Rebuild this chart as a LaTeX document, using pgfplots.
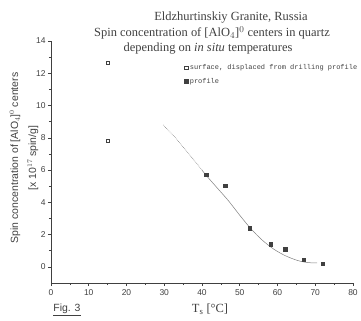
\documentclass[border=0pt]{standalone}
\usepackage{fontspec}
\setmainfont{Liberation Serif}
\setsansfont{Liberation Sans}
\newfontfamily\monofont{Liberation Mono}
\usepackage{pgfplots}
\pgfplotsset{compat=1.18}
\definecolor{ink}{gray}{0.25}
\begin{document}
\begin{tikzpicture}[x=1bp,y=1bp]
\path[use as bounding box] (-51,-38) rectangle (310,283);
\begin{axis}[at={(0,0)}, anchor=south west, scale only axis, width=302bp, height=242bp,
  xmin=0, xmax=80, ymin=-1, ymax=14,
  axis x line=bottom, axis y line=left,
  axis line style={-, ink, line width=0.6pt},
  xtick={0,10,...,80}, ytick={0,2,...,14},
  minor x tick num=1, minor y tick num=1,
  tick align=outside, major tick length=3bp, minor tick length=2bp,
  every tick/.style={ink, line width=0.5pt},
  ticklabel style={font=\sffamily\fontsize{8.5}{9}\selectfont, text=ink},
  yticklabel style={xshift=1bp},
  /pgf/number format/assume math mode=true,
  legend style={at={(axis cs:34.5,12.8)}, anchor=north west, draw=none, fill=none,
    font=\monofont\fontsize{7}{8}\selectfont, text=ink, row sep=3bp},
  legend cell align=left,
  clip=false]
\addplot[only marks, mark=square, mark size=1.7bp, ink, mark options={line width=0.5pt}]
  coordinates {(15,12.65) (15,7.8)};
\addlegendentry{surface, displaced from drilling profile}
\addplot[only marks, mark=square*, mark size=1.7bp, ink]
  coordinates {(41.1,5.71) (46.1,5.03) (52.7,2.40) (58.2,1.41) (62.0,1.10) (67.0,0.43) (71.9,0.2)};
\addlegendentry{profile}
\addplot[forget plot, gray, densely dotted, line width=0.6pt]
  coordinates {(29.7,8.8) (33,8.0) (36,7.15) (39,6.3) (40,6.0)};
\addplot[forget plot, gray, line width=0.5pt, smooth]
  coordinates {(40,6.0) (41,5.7) (44,4.9) (47,4.1) (50,3.2) (53,2.35) (56,1.65) (59,1.1) (62,0.7) (65,0.42) (67,0.3) (69,0.25) (70.5,0.25)};
\end{axis}
\node[text=ink, font=\fontsize{12.5}{14}\selectfont] at (180,265) {Eldzhurtinskiy Granite, Russia};
\node[text=ink, font=\fontsize{12.5}{14}\selectfont] at (161,250) {Spin concentration of [AlO$_4$]$^0$ centers in quartz};
\node[text=ink, font=\fontsize{12.5}{14}\selectfont] at (157,234) {depending on \textit{in situ} temperatures};
\node[rotate=90, align=center, text=ink, font=\sffamily\fontsize{10.5}{18}\selectfont] at (-27,125)
  {Spin concentration of [AlO$_4$]$^0$ centers\\ {[x 10$^{17}$ spin/g]}};
\node[text=ink, font=\fontsize{12.5}{14}\selectfont] at (159,-26) {T\textsubscript{s} [°C]};
\node[text=ink, font=\sffamily\fontsize{10.5}{12}\selectfont] at (16,-27) {\underline{Fig. 3}};
\end{tikzpicture}
\end{document}
